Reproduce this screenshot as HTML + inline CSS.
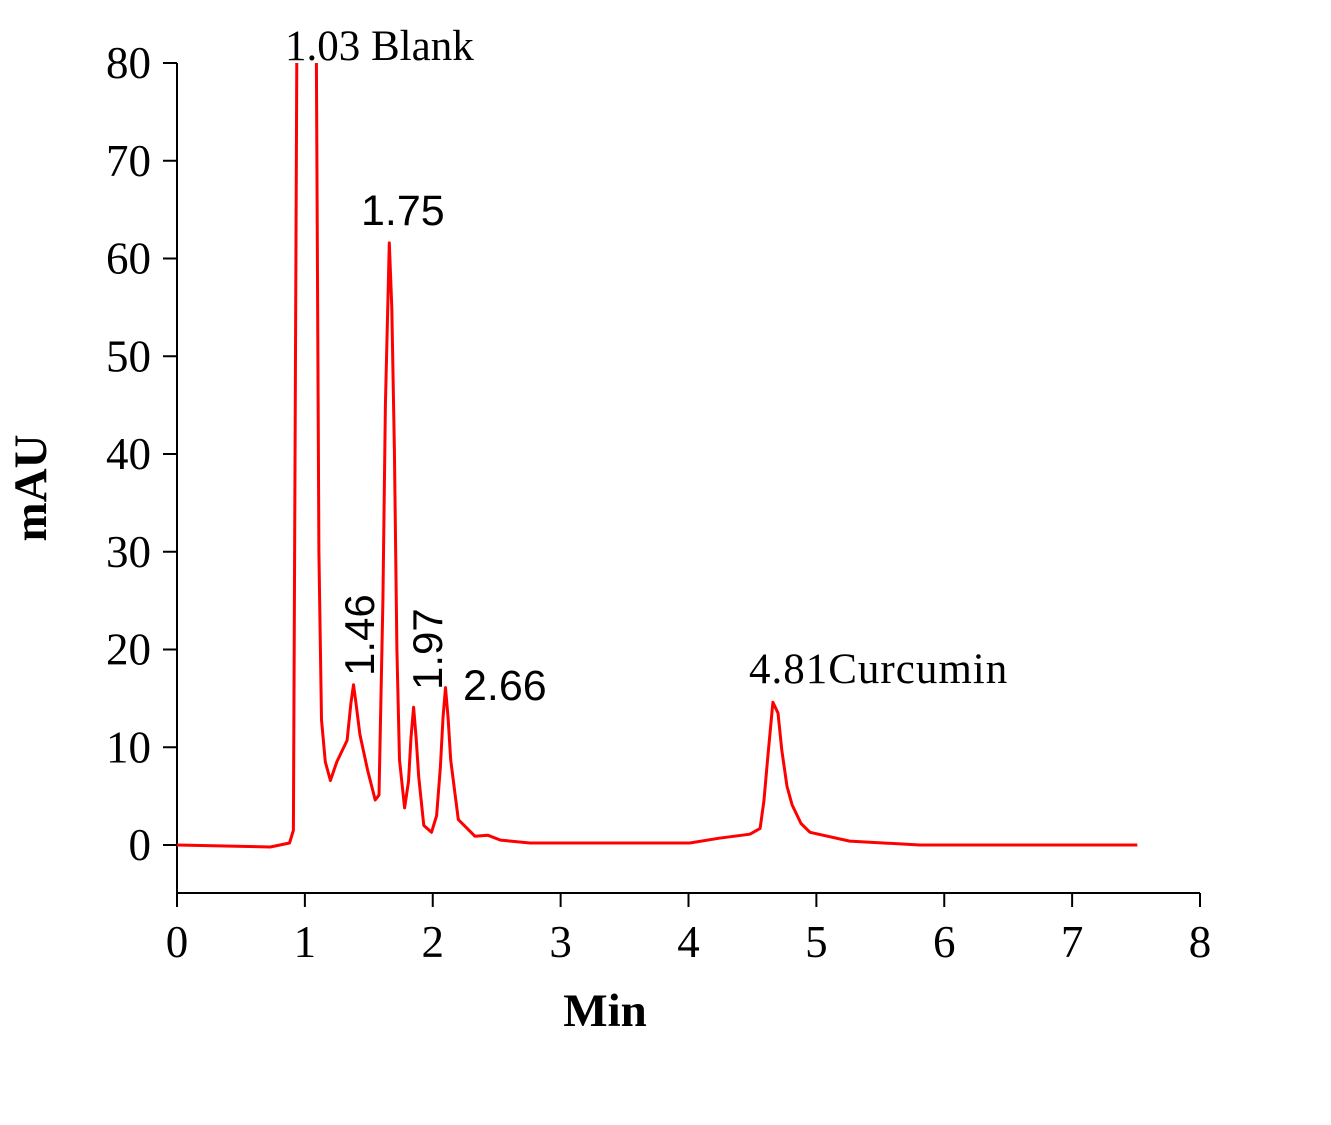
<!DOCTYPE html>
<html><head><meta charset="utf-8"><style>body{margin:0;background:#fff}svg{display:block}</style></head>
<body>
<svg id="chart" width="1331" height="1125" xmlns="http://www.w3.org/2000/svg" font-family="Liberation Serif, serif">
<defs><clipPath id="clip"><rect x="170" y="63" width="1040" height="830"/></clipPath></defs>
<g id="axes"></g>
<path id="trace" fill="none" stroke="#ff0000" stroke-width="3" stroke-linejoin="round" clip-path="url(#clip)"/>
<text x="285" y="60" font-size="43">1.03 Blank</text>
<text x="361" y="225" font-size="43" font-family="Liberation Sans, sans-serif">1.75</text>
<text transform="translate(374,676) rotate(-90)" font-size="42" font-family="Liberation Sans, sans-serif">1.46</text>
<text transform="translate(442,690) rotate(-90)" font-size="42" font-family="Liberation Sans, sans-serif">1.97</text>
<text x="463" y="700" font-size="43" font-family="Liberation Sans, sans-serif">2.66</text>
<text x="749" y="683" font-size="43" letter-spacing="1">4.81Curcumin</text>
<text x="605" y="1026" font-size="47" font-weight="bold" text-anchor="middle">Min</text>
<text transform="translate(46,488) rotate(-90)" font-size="47" font-weight="bold" text-anchor="middle">mAU</text>
</svg>
<script>
const times=[0,0.73,0.88,0.91,0.95,1.01,1.07,1.09,1.11,1.13,1.16,1.20,1.25,1.33,1.36,1.38,1.40,1.43,1.49,1.55,1.58,1.61,1.63,1.66,1.68,1.70,1.72,1.74,1.78,1.81,1.83,1.85,1.87,1.89,1.93,1.99,2.03,2.06,2.08,2.10,2.12,2.14,2.20,2.33,2.43,2.53,2.76,4.01,4.24,4.48,4.56,4.59,4.62,4.66,4.70,4.73,4.77,4.81,4.88,4.95,5.26,5.81,7.51];
const values=[0,-0.2,0.2,1.5,120,300,120,80,30,12.8,8.5,6.6,8.5,10.7,14.5,16.4,14.5,11.3,7.7,4.6,5.1,25,45,61.6,55,40.4,20,8.7,3.8,6.5,11,14.1,11,7,2,1.3,3,8,13,16.1,13,8.7,2.6,0.9,1.0,0.5,0.2,0.2,0.7,1.1,1.7,4.5,9,14.6,13.5,9.7,6,4.1,2.2,1.3,0.4,0,0];
const xTicks=[0,1,2,3,4,5,6,7,8];
const yTicks=[0,10,20,30,40,50,60,70,80];
const X=t=>177+t*(1200-177)/8;
const Y=v=>845-v*(845-63)/80;
const ns="http://www.w3.org/2000/svg";
const ax=document.getElementById('axes');
function mk(tag,attrs,parent){const e=document.createElementNS(ns,tag);for(const k in attrs)e.setAttribute(k,attrs[k]);parent.appendChild(e);return e;}
let l=mk('line',{x1:177,y1:63,x2:177,y2:893,stroke:'#000','stroke-width':2},ax);


l=mk('line',{x1:177,y1:893,x2:1200,y2:893,stroke:'#000','stroke-width':2},ax);


xTicks.forEach(t=>{
 const tk=mk('line',{x1:X(t),y1:893,x2:X(t),y2:907,stroke:'#000','stroke-width':2},ax);
 
 
 const tx=mk('text',{x:X(t),y:957,'font-size':45,'text-anchor':'middle'},ax);
 tx.textContent=t;
 
 
});
yTicks.forEach(v=>{
 const tk=mk('line',{x1:163,y1:Y(v),x2:177,y2:Y(v),stroke:'#000','stroke-width':2},ax);
 
 
 const tx=mk('text',{x:151,y:Y(v)+15,'font-size':45,'text-anchor':'end'},ax);
 tx.textContent=v;
 
 
});
document.getElementById('trace').setAttribute('d',times.map((t,i)=>(i?'L':'M')+X(t).toFixed(1)+','+Y(values[i]).toFixed(1)).join(''));
</script>
</body></html>
